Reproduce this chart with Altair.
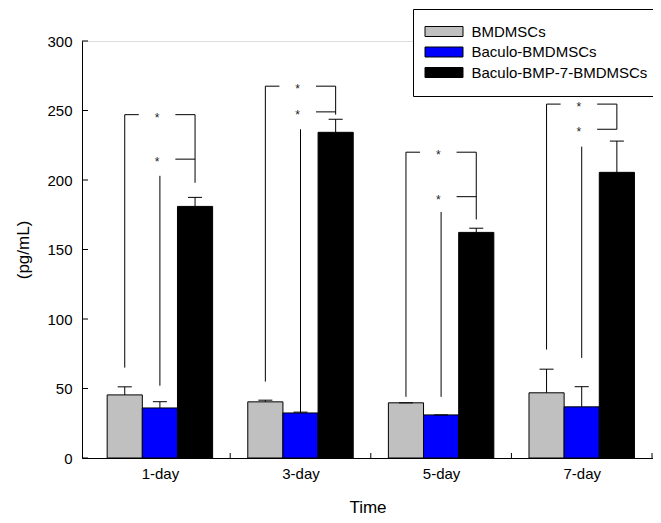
import altair as alt
import pandas as pd

days = ["1-day", "3-day", "5-day", "7-day"]
series = ["BMDMSCs", "Baculo-BMDMSCs", "Baculo-BMP-7-BMDMSCs"]
colors = ["#c0c0c0", "#0000ff", "#000000"]

bmdmscs = [45.4, 40.4, 39.7, 46.9]
bmdmscs_err = [5.8, 1.2, 0.0, 17.0]
baculo = [36.0, 32.4, 31.0, 36.8]
baculo_err = [4.5, 0.6, 0.0, 14.5]
bmp7 = [181.0, 234.3, 162.3, 205.5]
bmp7_err = [6.5, 9.4, 3.0, 22.5]

# significance brackets (pg/mL levels)
level1 = [247.0, 267.5, 220.0, 254.6]
level2 = [215.0, 249.0, 188.0, 236.5]
gray_low = [65.0, 55.0, 44.0, 78.0]
blue_low = [52.0, 32.4, 44.0, 72.0]
blue_high = [203.0, 236.5, 177.0, 224.0]
black_low = [198.0, 247.0, 171.6, 236.5]

y_ticks = [0, 50, 100, 150, 200, 250, 300]
x_ticks = [1.5, 2.5, 3.5, 4.5]

offsets = [-0.25, 0.0, 0.25]
half = 0.125
cap = 0.05

rows = []
for si, (vals, errs) in enumerate([(bmdmscs, bmdmscs_err), (baculo, baculo_err), (bmp7, bmp7_err)]):
    for di in range(len(days)):
        pos = di + 1 + offsets[si]
        rows.append({
            "series": series[si], "day": days[di], "pos": pos,
            "x1": pos - half, "x2": pos + half,
            "cl": pos - cap, "cr": pos + cap,
            "value": vals[di], "base": 0.0, "top": vals[di] + errs[di],
        })
df = pd.DataFrame(rows)

segs = []
stars = []
for di in range(len(days)):
    c = di + 1
    g, b, k = c - 0.25, c, c + 0.25
    segs += [
        {"x": g, "x2": g, "y": gray_low[di], "y2": level1[di]},
        {"x": g, "x2": c - 0.15, "y": level1[di], "y2": level1[di]},
        {"x": c + 0.11, "x2": k, "y": level1[di], "y2": level1[di]},
        {"x": k, "x2": k, "y": black_low[di], "y2": level1[di]},
        {"x": c + 0.11, "x2": k, "y": level2[di], "y2": level2[di]},
        {"x": b, "x2": b, "y": blue_low[di], "y2": blue_high[di]},
    ]
    stars += [{"x": c - 0.02, "y": level1[di]}, {"x": c - 0.02, "y": level2[di]}]
seg_df = pd.DataFrame(segs)
star_df = pd.DataFrame(stars)

FONT = "Liberation Sans"
xscale = alt.Scale(domain=[0.446, 4.507], nice=False, zero=False)
yscale = alt.Scale(domain=[0, 300], nice=False)

xaxis = alt.Axis(values=[1, 2, 3, 4], ticks=False, grid=False,
                 labelExpr="['1-day','3-day','5-day','7-day'][datum.value - 1]",
                 labelFontSize=15, labelPadding=8, titleFontSize=17, titlePadding=18,
                 titleFontWeight="normal", labelFont=FONT, titleFont=FONT,
                 domainColor="black", labelColor="black", titleColor="black")
yaxis = alt.Axis(values=y_ticks, ticks=False, grid=False, labelFontSize=15, labelPadding=10,
                 titleFontSize=17, titlePadding=14, titleFontWeight="normal",
                 labelFont=FONT, titleFont=FONT,
                 domainColor="black", labelColor="black", titleColor="black")

bars = alt.Chart(df).mark_bar(stroke="black", strokeWidth=1).encode(
    x=alt.X("x1:Q", scale=xscale, axis=xaxis, title="Time"),
    x2="x2:Q",
    y=alt.Y("value:Q", scale=yscale, axis=yaxis, title="(pg/mL)"),
    y2="base:Q",
    color=alt.Color("series:N", scale=alt.Scale(domain=series, range=colors),
                    legend=alt.Legend(title=None, orient="none", legendX=331, legendY=-32,
                                      strokeColor="black", fillColor="white", padding=15,
                                      symbolType="M-3.8,-1H3.8V1H-3.8Z", symbolSize=100,
                                      symbolOffset=8.5,
                                      symbolStrokeColor="black", symbolStrokeWidth=1,
                                      symbolOpacity=1,
                                      labelFontSize=15, labelFont=FONT, labelColor="black",
                                      labelLimit=400, labelOffset=20, rowPadding=4.5)),
)

err = alt.Chart(df).mark_rule(color="black", strokeWidth=1).encode(
    x=alt.X("pos:Q", scale=xscale), y=alt.Y("value:Q", scale=yscale), y2="top:Q")
caps = alt.Chart(df).mark_rule(color="black", strokeWidth=1).encode(
    x=alt.X("cl:Q", scale=xscale), x2="cr:Q", y=alt.Y("top:Q", scale=yscale))

brackets = alt.Chart(seg_df).mark_rule(color="black", strokeWidth=1).encode(
    x=alt.X("x:Q", scale=xscale), x2="x2:Q", y=alt.Y("y:Q", scale=yscale), y2="y2:Q")

star_marks = alt.Chart(star_df).mark_text(text="*", fontSize=12, font=FONT, color="#222",
                                          baseline="middle", dy=3).encode(
    x=alt.X("x:Q", scale=xscale), y=alt.Y("y:Q", scale=yscale))

ytick_df = pd.DataFrame({"v": y_ticks})
yticks = alt.Chart(ytick_df).mark_rule(color="black").encode(
    y=alt.Y("v:Q", scale=yscale), x=alt.value(0), x2=alt.value(6))
xtick_df = pd.DataFrame({"v": x_ticks})
xticks = alt.Chart(xtick_df).mark_rule(color="black").encode(
    x=alt.X("v:Q", scale=xscale), y=alt.value(417), y2=alt.value(412))

chart = alt.layer(bars, err, caps, brackets, star_marks, yticks, xticks).properties(
    width=571, height=417,
    autosize=alt.AutoSizeParams(type="none"),
    padding={"left": 74, "top": 33, "right": 0, "bottom": 57},
).configure_view(stroke=None).configure(background="white")

chart.save("out.html", embed_options={"renderer": "svg", "actions": False})
